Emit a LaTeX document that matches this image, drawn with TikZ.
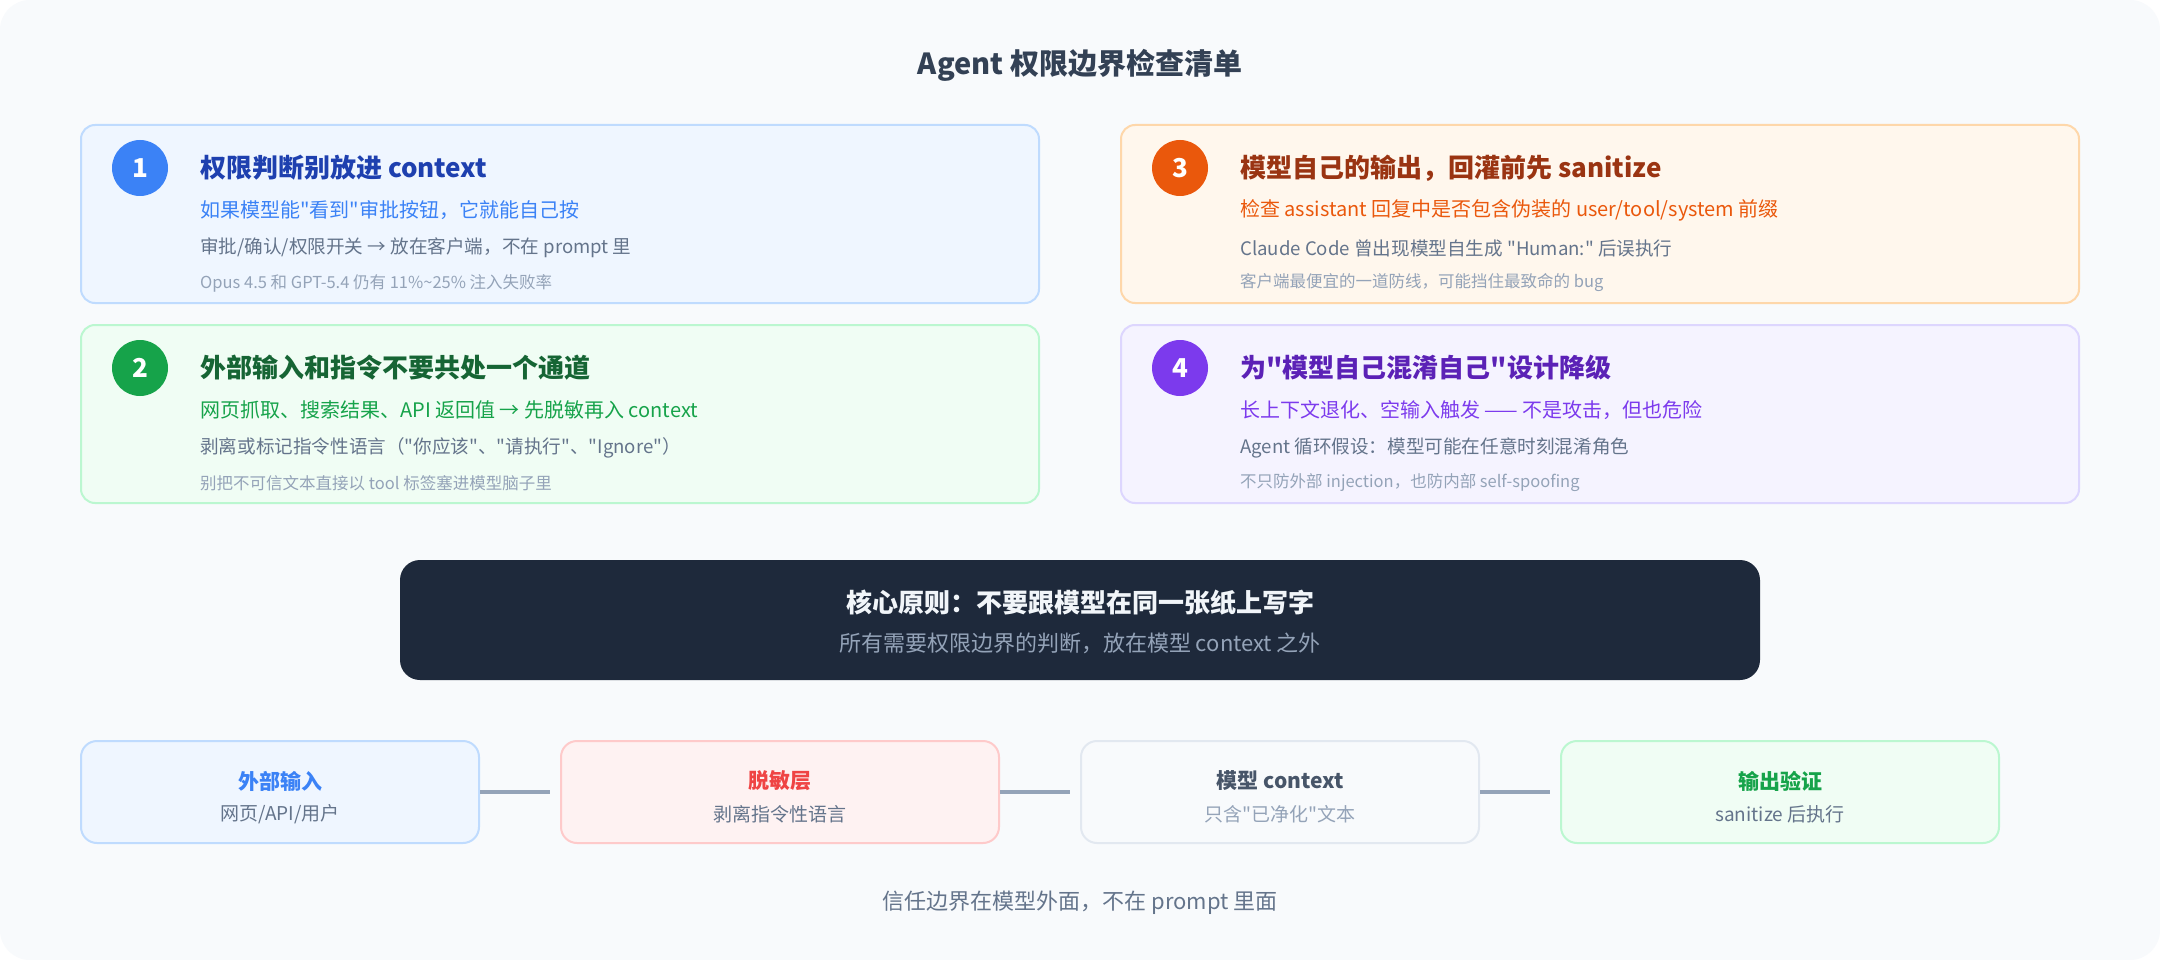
\documentclass[tikz,border=0pt]{standalone}
\usepackage{fontspec}
\setmainfont{Noto Sans CJK SC}
\newfontfamily\qf{Noto Sans CJK SC}
\definecolor{bg}{HTML}{F8FAFC}
\definecolor{ttl}{HTML}{334155}
\definecolor{aafill}{HTML}{EFF6FF}\definecolor{aaline}{HTML}{BFDBFE}\definecolor{aadot}{HTML}{3B82F6}\definecolor{aatitle}{HTML}{1E40AF}\definecolor{aasub}{HTML}{3B82F6}
\definecolor{bbfill}{HTML}{F0FDF4}\definecolor{bbline}{HTML}{BBF7D0}\definecolor{bbdot}{HTML}{16A34A}\definecolor{bbtitle}{HTML}{166534}\definecolor{bbsub}{HTML}{16A34A}
\definecolor{ccfill}{HTML}{FFF7ED}\definecolor{ccline}{HTML}{FED7AA}\definecolor{ccdot}{HTML}{EA580C}\definecolor{cctitle}{HTML}{9A3412}\definecolor{ccsub}{HTML}{EA580C}
\definecolor{ddfill}{HTML}{F5F3FF}\definecolor{ddline}{HTML}{DDD6FE}\definecolor{dddot}{HTML}{7C3AED}\definecolor{ddtitle}{HTML}{5B21B6}\definecolor{ddsub}{HTML}{7C3AED}
\definecolor{body}{HTML}{64748B}
\definecolor{note}{HTML}{94A3B8}
\definecolor{dark}{HTML}{1E293B}
\definecolor{dtitle}{HTML}{F1F5F9}
\definecolor{redfill}{HTML}{FEF2F2}\definecolor{redline}{HTML}{FECACA}\definecolor{redtxt}{HTML}{EF4444}
\definecolor{grayline}{HTML}{E2E8F0}\definecolor{graytxt}{HTML}{475569}
\definecolor{conn}{HTML}{94A3B8}
\newcommand\mkcard[9]{%
  \node[card, fill=#4fill, draw=#4line] (#1) at (#2,#3) {};
  \node[dot, fill=#4dot] (#1n) at (#2+60,#3+44) {#5};
  \node[ctitle, text=#4title] (#1t) at (#2+120,#3+44) {#6};
  \node[csub, text=#4sub] (#1s) at (#2+120,#3+86) {#7};
  \node[cbody] (#1b) at (#2+120,#3+124) {#8};
  \node[cnote] (#1m) at (#2+120,#3+159) {#9};
}
\begin{document}
\begin{tikzpicture}[x=1pt,y=-1pt,
  card/.style={line width=2pt, rounded corners=14pt, minimum width=958pt, minimum height=178pt, anchor=north west, inner sep=0pt, outer sep=0pt, xshift=1pt, yshift=-1pt},
  dot/.style={circle, minimum size=56pt, inner sep=0pt, text=white, font=\qf\fontsize{26}{30}\selectfont\bfseries},
  ctitle/.style={anchor=west, inner sep=0pt, font=\qf\fontsize{26}{30}\selectfont\bfseries},
  csub/.style={anchor=west, inner sep=0pt, font=\qf\fontsize{20}{24}\selectfont},
  cbody/.style={anchor=west, inner sep=0pt, text=body, font=\qf\fontsize{18.6}{23}\selectfont},
  cnote/.style={anchor=west, inner sep=0pt, text=note, font=\qf\fontsize{16.5}{20}\selectfont},
  flow/.style={line width=2pt, rounded corners=16pt, minimum height=102pt, inner sep=0pt},
  ftitle/.style={inner sep=0pt, font=\qf\fontsize{21}{25}\selectfont\bfseries},
  fsub/.style={inner sep=0pt, text=body, font=\qf\fontsize{19}{23}\selectfont},
  link/.style={draw=conn, line width=4pt, shorten >=10pt}
]
\useasboundingbox (0,0) rectangle (2160,960);
\fill[white] (0,0) rectangle (2160,960);
\fill[bg, rounded corners=30pt] (0,0) rectangle (2160,960);

\node[inner sep=0pt, text=ttl, font=\qf\fontsize{29}{34}\selectfont\bfseries] (title) at (1080,65) {Agent 权限边界检查清单};

\mkcard{k1}{80}{124}{aa}{1}{权限判断别放进 context}{如果模型能"看到"审批按钮，它就能自己按}{审批/确认/权限开关 → 放在客户端，不在 prompt 里}{Opus 4.5 和 GPT-5.4 仍有 11\%\string~25\% 注入失败率}
\mkcard{k2}{80}{324}{bb}{2}{外部输入和指令不要共处一个通道}{网页抓取、搜索结果、API 返回值 → 先脱敏再入 context}{剥离或标记指令性语言（"你应该"、"请执行"、"Ignore"）}{别把不可信文本直接以 tool 标签塞进模型脑子里}
\mkcard{k3}{1120}{124}{cc}{3}{模型自己的输出，回灌前先 sanitize}{检查 assistant 回复中是否包含伪装的 user/tool/system 前缀}{Claude Code 曾出现模型自生成 "Human:" 后误执行}{客户端最便宜的一道防线，可能挡住最致命的 bug}
\mkcard{k4}{1120}{324}{dd}{4}{为"模型自己混淆自己"设计降级}{长上下文退化、空输入触发 —— 不是攻击，但也危险}{Agent 循环假设：模型可能在任意时刻混淆角色}{不只防外部 injection，也防内部 self-spoofing}

\node[fill=dark, rounded corners=20pt, minimum width=1360pt, minimum height=120pt, inner sep=0pt] (core) at (1080,620) {};
\node[inner sep=0pt, text=dtitle, font=\qf\fontsize{26}{30}\selectfont\bfseries] (coret) at (1080,603) {核心原则：不要跟模型在同一张纸上写字};
\node[inner sep=0pt, text=note, font=\qf\fontsize{22}{26}\selectfont] (cores) at (1080,643) {所有需要权限边界的判断，放在模型 context 之外};

\node[flow, fill=aafill, draw=aaline, minimum width=398pt] (fa) at (280,792) {};
\node[flow, fill=redfill, draw=redline, minimum width=438pt] (fb) at (780,792) {};
\node[flow, fill=bg, draw=grayline, minimum width=398pt] (fc) at (1280,792) {};
\node[flow, fill=bbfill, draw=bbline, minimum width=438pt] (fd) at (1780,792) {};
\node[ftitle, text=aasub] (fat) at (280,781) {外部输入};
\node[fsub] (fas) at (280,814) {网页/API/用户};
\node[ftitle, text=redtxt] (fbt) at (780,781) {脱敏层};
\node[fsub] (fbs) at (780,814) {剥离指令性语言};
\node[ftitle, text=graytxt] (fct) at (1280,781) {模型 context};
\node[fsub, text=note] (fcs) at (1280,814) {只含"已净化"文本};
\node[ftitle, text=bbsub] (fdt) at (1780,781) {输出验证};
\node[fsub] (fds) at (1780,814) {sanitize 后执行};

\draw[link] (fa.east) -- (fb.west);
\draw[link] (fb.east) -- (fc.west);
\draw[link] (fc.east) -- (fd.west);

\node[inner sep=0pt, text=body, font=\qf\fontsize{22}{26}\selectfont] (foot) at (1080,903) {信任边界在模型外面，不在 prompt 里面};
\end{tikzpicture}
\end{document}
